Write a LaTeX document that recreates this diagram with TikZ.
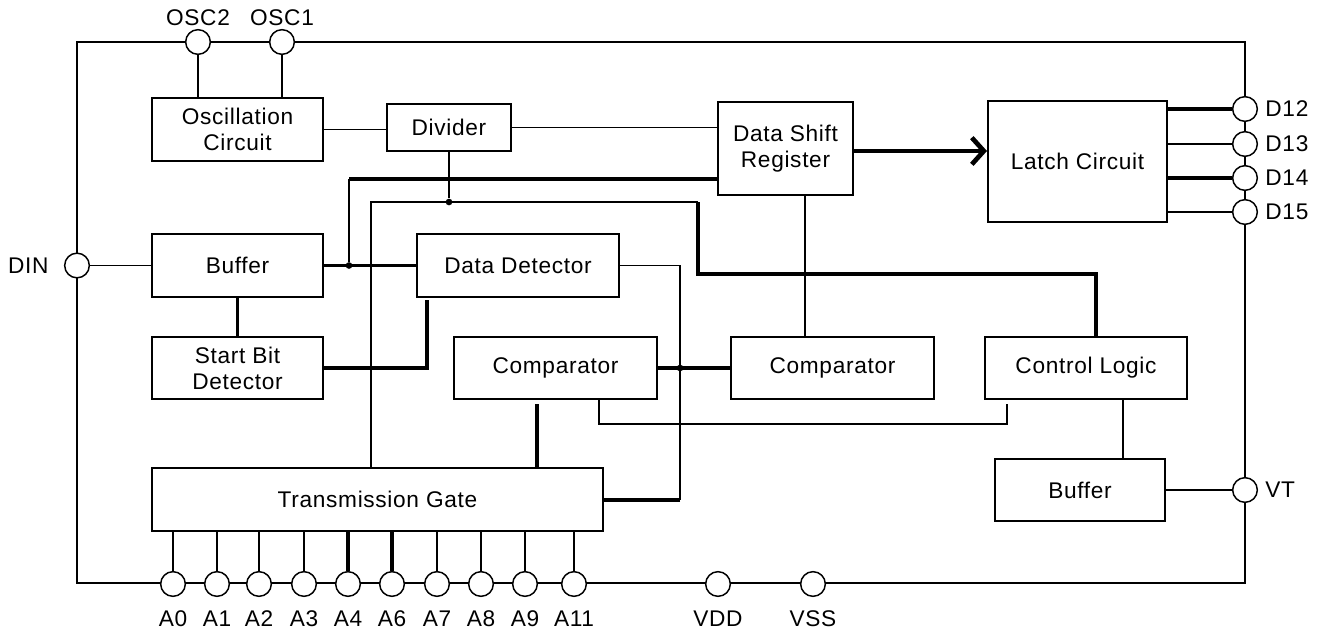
\documentclass[tikz,border=0pt]{standalone}
\usepackage{fontspec}
\setmainfont{Liberation Sans}[LetterSpace=3]
\usetikzlibrary{arrows.meta}

\begin{document}
\begin{tikzpicture}[x=0.75pt,y=-0.75pt,
                every node/.style={font=\fontsize{17}{19.5}\selectfont},
                blk/.style={draw,line width=1.1pt,align=center,inner sep=0pt,minimum height=47pt},
                heavy/.style={blk,line width=1.8pt},
                pad/.style={draw,circle,fill=white,line width=1.1pt,minimum size=18.5pt,inner sep=0pt},
                wire/.style={line width=1.2pt},
                bus/.style={line width=2.5pt},
                dot/.style={fill,circle,inner sep=0pt,minimum size=5pt}]
                \useasboundingbox (0,0) rectangle (1328,635);

                %%frame
                \draw[wire] (77,42) rectangle (1245,583);

                %%blocks
                \node[heavy,minimum width=128pt] (osc) at (237.5,129.5) {Oscillation\\Circuit};
                \node[blk,minimum width=93pt,minimum height=35pt] (div) at (449,127.5) {Divider};
                \node[blk,minimum width=101pt,minimum height=70pt] (dsr) at (785.5,148.5) {Data Shift\\Register};
                \node[heavy,minimum width=134pt,minimum height=91pt] (latch) at (1077.5,161.5) {Latch Circuit};
                \node[heavy,minimum width=128pt] (buf) at (237.5,265.5) {Buffer};
                \node[blk,minimum width=151.5pt] (dd) at (518,265.5) {Data Detector};
                \node[heavy,minimum width=128pt,minimum height=46.5pt] (sbd) at (237.5,368) {Start Bit\\Detector};
                \node[blk,minimum width=152pt,minimum height=46.5pt] (cmpa) at (555.5,368) {Comparator};
                \node[blk,minimum width=152pt,minimum height=46.5pt] (cmpb) at (832.5,368) {Comparator};
                \node[blk,minimum width=151.5pt,minimum height=46.5pt] (ctrl) at (1086,368) {Control Logic};
                \node[blk,minimum width=127.5pt,minimum height=46.5pt] (bufb) at (1080,490) {Buffer};
                \node[heavy,minimum width=338pt] (tg) at (377.5,499.5) {Transmission Gate};

                %%pins
                \node[pad,label={[label distance=-1pt]above:OSC2}] (osc2) at (198,42) {};
                \node[pad,label={[label distance=-1pt]above:OSC1}] (osc1) at (282,42) {};
                \node[pad,label={[label distance=8pt]left:DIN}] (din) at (77,265.5) {};
                \node[pad,label={[label distance=2pt]right:D12}] (d12) at (1245,109) {};
                \node[pad,label={[label distance=2pt]right:D13}] (d13) at (1245,144) {};
                \node[pad,label={[label distance=2pt]right:D14}] (d14) at (1245,178) {};
                \node[pad,label={[label distance=2pt]right:D15}] (d15) at (1245,212) {};
                \node[pad,label={[label distance=2pt]right:VT}] (vt) at (1245,490) {};
                \node[pad,label={[label distance=7pt]below:A0}] (a0) at (173,584) {};
                \node[pad,label={[label distance=7pt]below:A1}] (a1) at (217,584) {};
                \node[pad,label={[label distance=7pt]below:A2}] (a2) at (259,584) {};
                \node[pad,label={[label distance=7pt]below:A3}] (a3) at (304,584) {};
                \node[pad,label={[label distance=7pt]below:A4}] (a4) at (348,584) {};
                \node[pad,label={[label distance=7pt]below:A6}] (a6) at (392,584) {};
                \node[pad,label={[label distance=7pt]below:A7}] (a7) at (437,584) {};
                \node[pad,label={[label distance=7pt]below:A8}] (a8) at (481,584) {};
                \node[pad,label={[label distance=7pt]below:A9}] (a9) at (525,584) {};
                \node[pad,label={[label distance=7pt]below:A11}] (a11) at (574,584) {};
                \node[pad,label={[label distance=7pt]below:VDD}] (vdd) at (718,584) {};
                \node[pad,label={[label distance=7pt]below:VSS}] (vss) at (813,584) {};

                %%bends
                \coordinate (ta) at (371,202);
                \coordinate (tb) at (698,202);
                \coordinate (tc) at (698,274);
                \coordinate (td) at (1096,274);
                \coordinate (sa) at (349,179);
                \coordinate (ddb) at (427,300);
                \coordinate (ra) at (680,265.5);
                \coordinate (rb) at (680,500);
                \coordinate (dsrb) at (805,0);
                \coordinate (ca) at (599,424);
                \coordinate (cb) at (1007,404);
                \coordinate (cc) at (537,404);
                \coordinate (cd) at (1123,0);
                \coordinate (arr) at (0,151);
                \node[dot] (jdiv) at (div.south |- ta) {};
                \node[dot] (jbuf) at (349,265.5) {};
                \node[dot] (jcmp) at (680,368) {};

                %%clock wires
                \draw[wire] (osc2) -- (osc2 |- osc.north);
                \draw[wire] (osc1) -- (osc1 |- osc.north);
                \draw[wire] (osc.east) -- (osc.east -| div.west);
                \draw[wire] (div.east) -- (div.east -| dsr.west);
                \draw[wire] (div.south) -- (jdiv);
                \draw[wire] (ta |- tg.north) -- (ta) -- (tb);
                \draw[bus] (tb) -- (tc) -- (td) -- (td |- ctrl.north);

                %%data wires
                \draw[wire] (din) -- (din -| buf.west);
                \draw[bus] (buf.east) -- (dd.west);
                \draw[bus] (dsr.west |- sa) -- (sa);
                \draw[wire] (sa) -- (jbuf);
                \draw[bus] (buf.south) -- (buf.south |- sbd.north);
                \draw[bus] (sbd.east) -| (ddb);
                \draw[wire] (dd.east) -- (ra) -- (rb);
                \draw[bus] (rb) -- (rb -| tg.east);
                \draw[bus] (cmpa.east) -- (cmpb.west);
                \draw[wire] (dsr.south -| dsrb) -- (cmpb.north -| dsrb);
                \draw[wire] (cmpa.south -| ca) -- (ca) -| (cb);
                \draw[bus] (cc) -- (cc |- tg.north);
                \draw[wire] (ctrl.south -| cd) -- (bufb.north -| cd);
                \draw[wire] (bufb.east) -- (vt);
                \draw[line width=3.5pt,-{Straight Barb[length=9pt,width=20pt]}]
                    (dsr.east |- arr) -- (latch.west |- arr);

                %%outputs
                \draw[bus] (d12 -| latch.east) -- (d12);
                \draw[wire] (d13 -| latch.east) -- (d13);
                \draw[bus] (d14 -| latch.east) -- (d14);
                \draw[wire] (d15 -| latch.east) -- (d15);

                %%address lines
                \draw[wire] (a0 |- tg.south) -- (a0);
                \draw[wire] (a1 |- tg.south) -- (a1);
                \draw[wire] (a2 |- tg.south) -- (a2);
                \draw[wire] (a3 |- tg.south) -- (a3);
                \draw[bus] (a4 |- tg.south) -- (a4);
                \draw[bus] (a6 |- tg.south) -- (a6);
                \draw[wire] (a7 |- tg.south) -- (a7);
                \draw[wire] (a8 |- tg.south) -- (a8);
                \draw[wire] (a9 |- tg.south) -- (a9);
                \draw[wire] (a11 |- tg.south) -- (a11);
            \end{tikzpicture}
\end{document}
